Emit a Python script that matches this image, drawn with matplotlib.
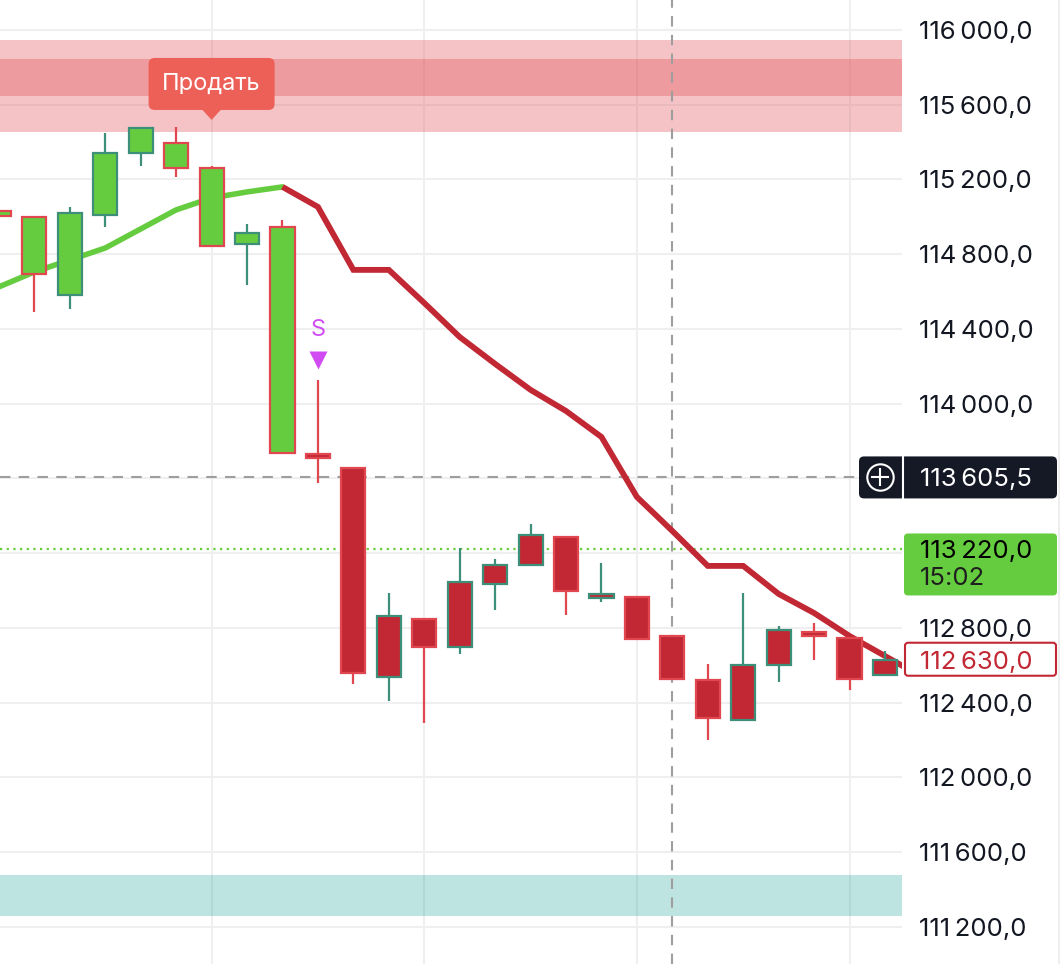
import numpy as np
import matplotlib
matplotlib.use('Agg')
import matplotlib.pyplot as plt
from matplotlib.patches import Rectangle, FancyBboxPatch, Polygon

plt.rcParams['font.family'] = ['Inter', 'DejaVu Sans']

# --- data ---
opens = [115030, 114999, 114582, 115010, 115342, 115395, 115262, 114855, 114946,
         113731, 113656, 112538, 112848, 112698, 113035, 113137, 113287, 112961,
         112966, 112757, 112522, 112308, 112602, 112779, 112747, 112549]
highs = [115040, 114999, 115053, 115449, 115476, 115481, 115272, 114962, 114983,
         114127, 113656, 112987, 112848, 113228, 113169, 113357, 113287, 113148,
         112966, 112757, 112607, 112987, 112811, 112827, 112747, 112677]
lows = [114995, 114491, 114507, 114946, 115272, 115213, 114844, 114635, 113736,
        113576, 112500, 112409, 112292, 112661, 112896, 113137, 112870, 112939,
        112741, 112527, 112201, 112308, 112511, 112629, 112468, 112549]
closes = [115005, 114694, 115021, 115342, 115476, 115262, 114844, 114914, 113736,
          113710, 112559, 112864, 112698, 113046, 113137, 113298, 112998, 112982,
          112741, 112527, 112318, 112602, 112789, 112757, 112527, 112630]
# body fill follows the trend state: 'buy' (green) / 'sell' (red)
trend = ['buy'] * 9 + ['sell'] * 17

ma = [114625, 114705, 114769, 114833, 114935, 115037, 115101, 115133, 115160,
      115053, 114716, 114716, 114539, 114357, 114213, 114074, 113961, 113822,
      113501, 113319, 113132, 113132, 112982, 112880, 112757, 112650, 112543]
ma_switch = 8

price_ticks = np.arange(111200, 116001, 400)
hidden_ticks = [113600, 113200]
sell_zone = (115454, 115946)
sell_core = (115647, 115845)
buy_zone = (111259, 111478)
v_grid = [6, 12, 18, 24]

cross_idx = 19
cross_price = 113605.5
bar_price = 113220.0
bar_timer = '15:02'
last_price = 112630.0
sell_idx = 6
sell_text = 'Продать'
s_idx = 9
s_price = 114395
s_mark_price = 114234

GREEN = '#66CC3F'
RED = '#C22834'
RED_EDGE = '#E0474F'
TEAL = '#3E8F79'
TEXT = '#131722'
MAGENTA = '#D04CF2'


def fmt(v, dec='0'):
    return f"{int(v):,}".replace(',', '\u2009') + ',' + dec


W, H = 1060, 964
fig = plt.figure(figsize=(W / 100, H / 100), dpi=100)
ax = fig.add_axes([0, 0, 902 / W, 1])
ylim = (111002, 116160)
xlim = (0.03, 25.48)
ax.set_xlim(*xlim)
ax.set_ylim(*ylim)
pp = (ylim[1] - ylim[0]) / H          # price per pixel
xp = (xlim[1] - xlim[0]) / 902        # index units per pixel

for s in ax.spines.values():
    s.set_visible(False)
ax.set_yticks(price_ticks)
ax.set_yticklabels(['' if t in hidden_ticks else fmt(t) for t in price_ticks])
ax.set_xticks(v_grid)
ax.yaxis.tick_right()
ax.tick_params(axis='y', length=0, pad=12, labelsize=18.5, labelcolor=TEXT)
ax.tick_params(axis='x', length=0, labelbottom=False)
ax.grid(color='#EFEFEF', lw=1.5)
ax.set_axisbelow(True)

# zones
ax.axhspan(*sell_zone, color=RED_EDGE, alpha=0.32, lw=0, zorder=1)
ax.axhspan(*sell_core, color=RED_EDGE, alpha=0.32, lw=0, zorder=1)
ax.axhspan(*buy_zone, color='#26A69A', alpha=0.3, lw=0, zorder=1)

# crosshair and current bar line
ax.axvline(cross_idx, color='#9E9E9E', ls=(0, (5, 4)), lw=1.5, zorder=1.5)
ax.axhline(cross_price, color='#9E9E9E', ls=(0, (5, 4)), lw=1.5, zorder=1.5)
ax.axhline(bar_price, color=GREEN, ls=(0, (1, 2)), lw=1.6, zorder=1.5)

# moving average
xi = np.arange(len(ma))
ax.plot(xi[:ma_switch + 1], ma[:ma_switch + 1], color=GREEN, lw=4.0,
        solid_joinstyle='round', solid_capstyle='round', zorder=2)
ax.plot(xi[ma_switch:], ma[ma_switch:], color=RED, lw=4.2,
        solid_joinstyle='miter', solid_capstyle='butt', zorder=2)

# candles
bw = 0.68
for i, (o, h, l, c, t) in enumerate(zip(opens, highs, lows, closes, trend)):
    ec = TEAL if c >= o else RED_EDGE
    fc = GREEN if t == 'buy' else RED
    ax.plot([i, i], [l, h], color=ec, lw=1.6, zorder=3, solid_capstyle='butt')
    lo, hi = min(o, c), max(o, c)
    ax.add_patch(Rectangle((i - bw / 2, lo), bw, max(hi - lo, 2 * pp),
                           fc=fc, ec=ec, lw=1.6, zorder=4))

# sell signal label
bx_w, bx_h = 126 * xp, 52 * pp
bx_bottom = sell_zone[0] + 22 * pp
ax.add_patch(FancyBboxPatch((sell_idx - bx_w / 2, bx_bottom), bx_w, bx_h,
                            boxstyle=f'round,pad=0,rounding_size={6 * xp}',
                            mutation_aspect=pp / xp, fc='#EC6058', ec='none', zorder=6))
ax.add_patch(Polygon([(sell_idx - 10 * xp, bx_bottom + 1 * pp),
                      (sell_idx + 10 * xp, bx_bottom + 1 * pp),
                      (sell_idx, bx_bottom - 10 * pp)],
                     closed=True, fc='#EC6058', ec='none', zorder=6))
ax.text(sell_idx, bx_bottom + bx_h / 2, sell_text, color='white', ha='center',
        va='center', fontsize=17, zorder=7)

ax.text(s_idx, s_price, 'S', color=MAGENTA, ha='center', va='center', fontsize=17, zorder=6)
ax.plot(s_idx, s_mark_price, marker='v', ms=13, color=MAGENTA, mec='none', zorder=6)

# right-side price labels (x in pixels, y in price)
ov = fig.add_axes([0, 0, 1, 1], zorder=5)
ov.set_xlim(0, W)
ov.set_ylim(*ylim)
ov.axis('off')

ov.add_patch(FancyBboxPatch((859, cross_price - 21 * pp), 198, 42 * pp,
                            boxstyle='round,pad=0,rounding_size=5',
                            mutation_aspect=pp, fc='#151925', ec='none'))
ov.plot([903, 903], [cross_price - 21 * pp, cross_price + 21 * pp], color='white', lw=1.5)
ov.plot(880, cross_price, marker='o', ms=19, mfc='none', mec='white', mew=1.5)
ov.plot(880, cross_price, marker='+', ms=13, mec='white', mew=1.5)
ov.text(920, cross_price, fmt(cross_price, '5'), color='white', va='center_baseline',
        fontsize=18.5)

ov.add_patch(FancyBboxPatch((904, bar_price - 46 * pp), 153, 62 * pp,
                            boxstyle='round,pad=0,rounding_size=4',
                            mutation_aspect=pp, fc=GREEN, ec='none'))
ov.text(920, bar_price, fmt(bar_price), color='black', va='center_baseline', fontsize=18.5)
ov.text(920, bar_price - 27 * pp, bar_timer, color='#1E1E1E', va='center_baseline',
        fontsize=18.5)

ov.add_patch(FancyBboxPatch((905, last_price - 16 * pp), 151, 33 * pp,
                            boxstyle='round,pad=0,rounding_size=3',
                            mutation_aspect=pp, fc='white', ec=RED, lw=1.5))
ov.text(920, last_price, fmt(last_price), color=RED, va='center_baseline', fontsize=18.5)

ov.axvline(1058.5, color='#EEEEEE', lw=1.5)

fig.savefig('out.png', dpi=100, facecolor='white')
